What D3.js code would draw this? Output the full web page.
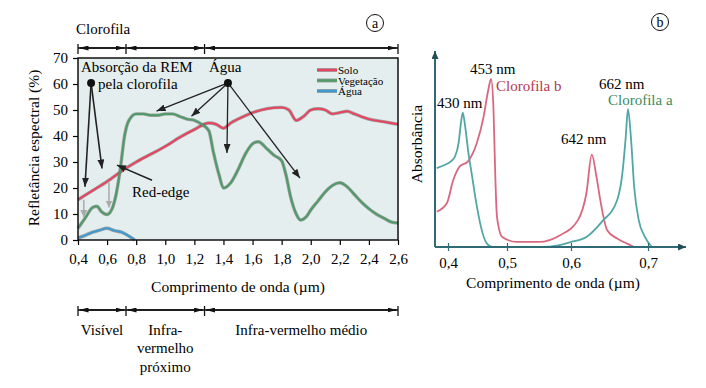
<!DOCTYPE html>
<html>
<head>
  <title>reflectancia</title>
  <script src="https://d3js.org/d3.v7.min.js"></script>
  <style>
    body { margin: 0; background: #fff; }
    text { font-family: "Liberation Serif", "DejaVu Serif", serif; }
  </style>
</head>
<body>
  <svg width="706" height="388" id="mainsvg"></svg>
  <script>
    // ---- dados painel (a): comprimento de onda (um) e refletancia (%)
    const soloWl  = [0.4, 0.5, 0.6, 0.7, 0.8, 0.9, 1.0, 1.1, 1.2, 1.3, 1.35, 1.4, 1.45, 1.5, 1.6, 1.7, 1.8, 1.85, 1.9, 1.95, 2.0, 2.05, 2.1, 2.15, 2.2, 2.25, 2.3, 2.4, 2.5, 2.6];
    const soloRef = [15.5, 19, 22.5, 26.5, 30, 33, 36, 39.5, 42.5, 45, 44.5, 43, 45, 46.5, 49, 50.5, 51, 50, 46, 47.5, 50, 50.5, 50, 48.5, 49, 49.5, 48.5, 46.5, 45.5, 44.5];
    const vegWl  = [0.4, 0.45, 0.5, 0.53, 0.56, 0.6, 0.63, 0.66, 0.69, 0.72, 0.75, 0.8, 0.85, 0.9, 0.95, 1.0, 1.05, 1.1, 1.15, 1.2, 1.25, 1.3, 1.33, 1.37, 1.4, 1.45, 1.5, 1.55, 1.6, 1.64, 1.7, 1.75, 1.8, 1.83, 1.86, 1.9, 1.93, 1.97, 2.0, 2.05, 2.1, 2.15, 2.2, 2.25, 2.3, 2.35, 2.4, 2.45, 2.5, 2.55, 2.6];
    const vegRef = [4.5, 8.5, 12.5, 13, 11, 9.8, 11.5, 17, 27, 40, 46, 48.5, 48.5, 48, 48, 48.5, 48.5, 47.5, 46.5, 46, 44.5, 42, 34, 25, 20, 22, 27, 33, 37, 37.8, 35, 32.5, 30.5, 25, 17, 10, 7.7, 9, 11.5, 15, 18.5, 21, 22, 20.5, 17.5, 14.5, 12, 10, 8.5, 7, 6.5];
    const aguaWl  = [0.4, 0.45, 0.5, 0.55, 0.6, 0.65, 0.7, 0.75, 0.79];
    const aguaRef = [0.8, 1.8, 3, 3.8, 4.5, 3.6, 3, 1.5, 0];
    const seriesNames = ["Solo", "Vegetação", "Água"];
    const seriesColors = ["#e8445f", "#4f9a67", "#3f9ad0"];
    const yTicksA = [0, 10, 20, 30, 40, 50, 60, 70];
    const xTicksA = [0.4, 0.6, 0.8, 1.0, 1.2, 1.4, 1.6, 1.8, 2.0, 2.2, 2.4, 2.6];
    const bandEdges = [0.4, 0.73, 1.27, 2.6];

    // ---- dados painel (b): absorbancia relativa
    const claWl  = [0.381, 0.395, 0.405, 0.412, 0.418, 0.422, 0.425, 0.429, 0.435, 0.44, 0.449, 0.458, 0.466, 0.475, 0.5, 0.556, 0.58, 0.6, 0.62, 0.64, 0.66, 0.667, 0.671, 0.674, 0.678, 0.682, 0.688, 0.696, 0.705];
    const claAbs = [0.47, 0.49, 0.51, 0.54, 0.62, 0.74, 0.80, 0.72, 0.55, 0.44, 0.24, 0.09, 0.02, 0, 0, 0, 0.01, 0.03, 0.06, 0.15, 0.28, 0.45, 0.65, 0.82, 0.64, 0.36, 0.16, 0.06, 0];
    const clbWl  = [0.381, 0.398, 0.409, 0.42, 0.434, 0.449, 0.46, 0.468, 0.473, 0.477, 0.48, 0.483, 0.492, 0.515, 0.55, 0.583, 0.609, 0.62, 0.627, 0.633, 0.638, 0.647, 0.66, 0.673, 0.682];
    const clbAbs = [0.21, 0.26, 0.40, 0.48, 0.51, 0.62, 0.77, 0.93, 1.0, 0.83, 0.44, 0.18, 0.06, 0.03, 0.03, 0.07, 0.16, 0.32, 0.55, 0.42, 0.28, 0.10, 0.05, 0.02, 0];
    const xTicksB = [0.4, 0.5, 0.6, 0.7];
    const fmt = d => d.toFixed(1).replace('.', ',');

    let svg = d3.select('#mainsvg');
    let defs = svg.append('defs');

    function marker(id, color, w, h) {
      defs.append('marker')
        .attr('id', id)
        .attr('markerUnits', 'userSpaceOnUse')
        .attr('markerWidth', w).attr('markerHeight', h)
        .attr('viewBox', `0 0 ${w} ${h}`)
        .attr('refX', w).attr('refY', h / 2)
        .attr('orient', 'auto-start-reverse')
        .append('path')
        .attr('d', `M0,0 L${w},${h / 2} L0,${h} Z`)
        .attr('fill', color);
    }
    marker('arrBlack', '#222', 9, 7);
    marker('arrBar', '#111', 9, 5);
    marker('arrGray', '#aaa', 7, 7);
    marker('arrTeal', '#1f4f58', 8, 7);

    // ================= painel (a) =================
    const x = d3.scaleLinear().domain([0.4, 2.6]).range([78, 398]);
    const y = d3.scaleLinear().domain([0, 70]).range([240, 58]);

    svg.append('rect')
      .attr('x', x(0.4)).attr('y', y(70))
      .attr('width', x(2.6) - x(0.4)).attr('height', y(0) - y(70))
      .attr('fill', '#e4eeee');

    const line = d3.line().x(d => x(d[0])).y(d => y(d[1])).curve(d3.curveMonotoneX);
    const seriesA = [d3.zip(soloWl, soloRef), d3.zip(vegWl, vegRef), d3.zip(aguaWl, aguaRef)];

    seriesA.forEach((s, i) => {
      svg.append('path').datum(s).attr('d', line)
        .attr('fill', 'none').attr('stroke', '#666').attr('stroke-opacity', 0.55).attr('stroke-width', 3.4);
      svg.append('path').datum(s).attr('d', line)
        .attr('fill', 'none').attr('stroke', seriesColors[i]).attr('stroke-width', 2);
    });

    // eixo y
    const yAxis = svg.append('g').attr('transform', `translate(${x(0.4)},0)`)
      .call(d3.axisLeft(y).tickValues(yTicksA).tickSize(5).tickPadding(5));
    yAxis.select('.domain').remove();
    yAxis.selectAll('text').attr('font-size', 15).attr('font-family', 'Liberation Serif');
    yAxis.selectAll('line').attr('stroke-width', 1.2);

    const xAxis = svg.append('g').attr('transform', `translate(0,${y(0)})`)
      .call(d3.axisBottom(x).tickValues(xTicksA).tickFormat(fmt).tickSize(5).tickPadding(8));
    xAxis.select('.domain').remove();
    xAxis.selectAll('text').attr('font-size', 15).attr('font-family', 'Liberation Serif');
    xAxis.selectAll('line').attr('stroke-width', 1.2);

    // moldura
    svg.append('rect')
      .attr('x', x(0.4)).attr('y', y(70))
      .attr('width', x(2.6) - x(0.4)).attr('height', y(0) - y(70))
      .attr('fill', 'none').attr('stroke', '#111').attr('stroke-width', 1.5);

    svg.append('text').attr('x', 35).attr('y', 148)
      .attr('transform', 'rotate(-90,35,148)')
      .attr('text-anchor', 'middle').attr('dominant-baseline', 'middle')
      .attr('font-size', 15.5).text('Refletância espectral (%)');

    svg.append('text').attr('x', 238).attr('y', 292)
      .attr('text-anchor', 'middle').attr('font-size', 15.5)
      .text('Comprimento de onda (µm)');

    // legenda
    seriesNames.forEach((n, i) => {
      const ly = 70 + i * 10.5;
      svg.append('line').attr('x1', 317).attr('x2', 337).attr('y1', ly).attr('y2', ly)
        .attr('stroke', '#666').attr('stroke-opacity', 0.55).attr('stroke-width', 4);
      svg.append('line').attr('x1', 317).attr('x2', 337).attr('y1', ly).attr('y2', ly)
        .attr('stroke', seriesColors[i]).attr('stroke-width', 2.4);
      svg.append('text').attr('x', 338).attr('y', ly + 4)
        .attr('font-size', 11).text(n);
    });

    // faixas (barras com setas)
    function bands(yy) {
      const g = svg.append('g');
      g.append('line').attr('x1', x(bandEdges[0])).attr('x2', x(bandEdges[3]))
        .attr('y1', yy).attr('y2', yy).attr('stroke', '#111').attr('stroke-width', 1.3);
      bandEdges.forEach(e => {
        g.append('line').attr('x1', x(e)).attr('x2', x(e)).attr('y1', yy - 4).attr('y2', yy + 6)
          .attr('stroke', '#111').attr('stroke-width', 1.3);
      });
      for (let i = 0; i < 3; i++) {
        g.append('line').attr('x1', x(bandEdges[i]) + 1.5).attr('x2', x(bandEdges[i + 1]) - 1.5)
          .attr('y1', yy).attr('y2', yy).attr('stroke', '#111').attr('stroke-width', 1.3)
          .attr('marker-start', 'url(#arrBar)').attr('marker-end', 'url(#arrBar)');
      }
    }
    bands(48);
    bands(310);

    svg.append('text').attr('x', 76).attr('y', 34).attr('font-size', 15).text('Clorofila');

    const mid = (a, b) => (x(a) + x(b)) / 2;
    svg.append('text').attr('x', mid(0.4, 0.73)).attr('y', 335).attr('text-anchor', 'middle').attr('font-size', 15).text('Visível');
    [['Infra-', 335], ['vermelho', 353], ['próximo', 372]].forEach(t => {
      svg.append('text').attr('x', mid(0.73, 1.27)).attr('y', t[1]).attr('text-anchor', 'middle').attr('font-size', 15).text(t[0]);
    });
    svg.append('text').attr('x', mid(1.27, 2.6)).attr('y', 335).attr('text-anchor', 'middle').attr('font-size', 15).text('Infra-vermelho médio');

    // anotacoes
    function arrow(from, to, mk, color, w) {
      svg.append('line')
        .attr('x1', x(from[0])).attr('y1', y(from[1]))
        .attr('x2', x(to[0])).attr('y2', y(to[1]))
        .attr('stroke', color).attr('stroke-width', w)
        .attr('marker-end', `url(#${mk})`);
    }
    const dotAbs = [0.49, 60.4], dotAgua = [1.431, 60.4];
    arrow(dotAbs, [0.448, 20.5], 'arrBlack', '#222', 1.6);
    arrow(dotAbs, [0.565, 27.5], 'arrBlack', '#222', 1.6);
    arrow([0.44, 15.5], [0.44, 8.8], 'arrGray', '#aaa', 1.5);
    arrow([0.613, 22], [0.613, 12.5], 'arrGray', '#aaa', 1.5);
    arrow([0.909, 23], [0.668, 28.8], 'arrBlack', '#222', 1.6);
    arrow(dotAgua, [0.94, 49.6], 'arrBlack', '#222', 1.3);
    arrow(dotAgua, [1.18, 47.6], 'arrBlack', '#222', 1.3);
    arrow(dotAgua, [1.424, 33.5], 'arrBlack', '#222', 1.3);
    arrow(dotAgua, [1.926, 23.8], 'arrBlack', '#222', 1.3);
    [dotAbs, dotAgua].forEach(d => {
      svg.append('circle').attr('cx', x(d[0])).attr('cy', y(d[1])).attr('r', 4).attr('fill', '#111');
    });
    svg.append('text').attr('x', 81).attr('y', 72).attr('font-size', 15).text('Absorção da REM');
    svg.append('text').attr('x', 98).attr('y', 89).attr('font-size', 15).text('pela clorofila');
    svg.append('text').attr('x', 209).attr('y', 72).attr('font-size', 15).text('Água');
    svg.append('text').attr('x', 132).attr('y', 197).attr('font-size', 15).text('Red-edge');

    // rotulos (a) e (b)
    [[375, 23, 'a'], [660, 22, 'b']].forEach(l => {
      svg.append('circle').attr('cx', l[0]).attr('cy', l[1]).attr('r', 8.5)
        .attr('fill', 'none').attr('stroke', '#111').attr('stroke-width', 1);
      svg.append('text').attr('x', l[0]).attr('y', l[1] + 4.5).attr('text-anchor', 'middle')
        .attr('font-size', 14).text(l[2]);
    });

    // ================= painel (b) =================
    const xb = d3.scaleLinear().domain([0.4, 0.5, 0.6, 0.7]).range([448, 507, 571, 648]);
    const yb = d3.scaleLinear().domain([0, 1]).range([247, 79]);
    const lineB = d3.line().x(d => xb(d[0])).y(d => yb(d[1])).curve(d3.curveMonotoneX);

    svg.append('path').datum(d3.zip(clbWl, clbAbs)).attr('d', lineB)
      .attr('fill', 'none').attr('stroke', '#d86880').attr('stroke-width', 1.8);
    svg.append('path').datum(d3.zip(claWl, claAbs)).attr('d', lineB)
      .attr('fill', 'none').attr('stroke', '#52a6a6').attr('stroke-width', 1.8);

    const axisColor = '#2f6b76';
    svg.append('line').attr('x1', 435).attr('x2', 435).attr('y1', 247).attr('y2', 51)
      .attr('stroke', axisColor).attr('stroke-width', 2).attr('marker-end', 'url(#arrTeal)');
    svg.append('line').attr('x1', 435).attr('x2', 686).attr('y1', 247).attr('y2', 247)
      .attr('stroke', axisColor).attr('stroke-width', 2).attr('marker-end', 'url(#arrTeal)');

    const xAxisB = svg.append('g').attr('transform', 'translate(0,247)')
      .call(d3.axisBottom(xb).tickValues(xTicksB).tickFormat(fmt).tickSize(4).tickPadding(6));
    xAxisB.select('.domain').remove();
    xAxisB.selectAll('line').attr('y1', -4).attr('stroke', axisColor).attr('stroke-width', 1.2);
    xAxisB.selectAll('text').attr('font-size', 15).attr('font-family', 'Liberation Serif');

    svg.append('text').attr('x', 418).attr('y', 144)
      .attr('transform', 'rotate(-90,418,144)')
      .attr('text-anchor', 'middle').attr('dominant-baseline', 'middle')
      .attr('font-size', 15.5).text('Absorbância');
    svg.append('text').attr('x', 553).attr('y', 288).attr('text-anchor', 'middle')
      .attr('font-size', 15.5).text('Comprimento de onda (µm)');

    svg.append('text').attr('x', 470).attr('y', 74).attr('font-size', 15).text('453 nm');
    svg.append('text').attr('x', 496).attr('y', 91).attr('font-size', 15).attr('fill', '#b3374e').text('Clorofila b');
    svg.append('text').attr('x', 437).attr('y', 108).attr('font-size', 15).text('430 nm');
    svg.append('text').attr('x', 599).attr('y', 89).attr('font-size', 15).text('662 nm');
    svg.append('text').attr('x', 608).attr('y', 105).attr('font-size', 15).attr('fill', '#3d8a5c').text('Clorofila a');
    svg.append('text').attr('x', 561).attr('y', 144).attr('font-size', 15).text('642 nm');
  </script>
</body>
</html>
